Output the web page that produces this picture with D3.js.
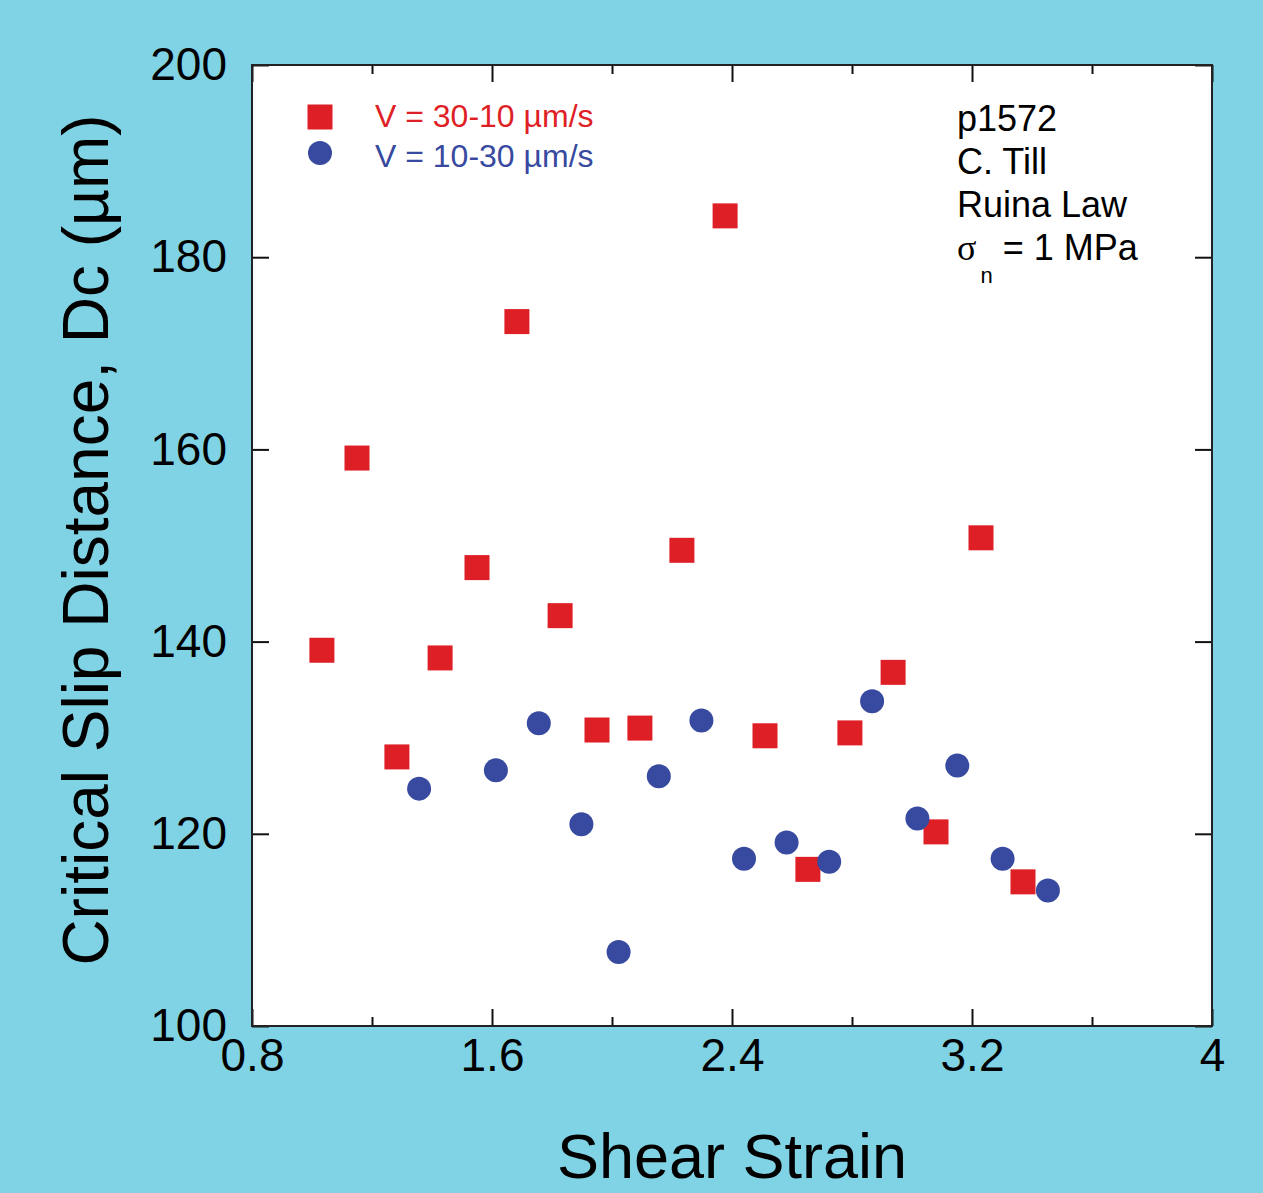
<!DOCTYPE html>
<meta charset="utf-8">
<script src="https://d3js.org/d3.v7.min.js"></script>
<style>
  body { margin: 0; background: #80d3e4; }
  text { font-family: "Liberation Sans", Arial, Helvetica, sans-serif; }
</style>
<div id="my_dataviz"></div>
<script>
    // data: shear strain vs critical slip distance Dc (µm)
    var downStrain = [1.033, 1.15, 1.283, 1.427, 1.55, 1.683, 1.827, 1.95, 2.093, 2.233, 2.377, 2.51, 2.653, 2.793, 2.937, 3.08, 3.23, 3.37];
    var downDc     = [139.1, 159.1, 128.0, 138.3, 147.7, 173.3, 142.7, 130.8, 131.0, 149.5, 184.3, 130.2, 116.3, 130.5, 136.8, 120.2, 150.8, 115.0];

    var upStrain = [1.357, 1.613, 1.756, 1.898, 2.022, 2.156, 2.298, 2.44, 2.582, 2.724, 2.867, 3.018, 3.151, 3.302, 3.453];
    var upDc     = [124.7, 126.6, 131.5, 121.0, 107.7, 126.0, 131.8, 117.4, 119.1, 117.1, 133.8, 121.6, 127.1, 117.4, 114.1];

    var xMajor = [0.8, 1.6, 2.4, 3.2, 4];
    var xMinor = [1.2, 2.0, 2.8, 3.6];
    var yMajor = [100, 120, 140, 160, 180, 200];

    var legendLabels = ["V = 30-10 µm/s", "V = 10-30 µm/s"];
    var noteLines = ["p1572", "C. Till", "Ruina Law"];

    var red = "#df1f26", blue = "#374a9f";

    var W = 1263, H = 1193;
    var margin = {top: 65, right: 51, bottom: 167, left: 252},
        width = W - margin.left - margin.right,
        height = H - margin.top - margin.bottom;

    var svg = d3.select("#my_dataviz")
      .append("svg")
        .attr("width", W)
        .attr("height", H)
      .append("g")
        .attr("transform", "translate(" + margin.left + "," + margin.top + ")");

    var x = d3.scaleLinear().domain([0.8, 4]).range([0, width]);
    var y = d3.scaleLinear().domain([100, 200]).range([height, 0]);

    // white plot area
    svg.append("rect")
        .attr("width", width)
        .attr("height", height)
        .attr("fill", "white");

    // axes: ticks point inward, on all four sides
    function styleAxis(g) {
      g.select(".domain").remove();
      g.selectAll(".tick line").attr("stroke", "#111").attr("stroke-width", 2);
      g.selectAll(".tick text").attr("fill", "black").style("font-size", "46px")
        .style("font-family", '"Liberation Sans", Arial, sans-serif');
    }

    svg.append("g")
        .attr("transform", "translate(0," + height + ")")
        .call(d3.axisBottom(x).tickValues(xMajor).tickSizeInner(-17).tickSizeOuter(0).tickPadding(12)
              .tickFormat(function(d){ return d3.format("~g")(d) }))
        .call(styleAxis);
    svg.append("g")
        .attr("transform", "translate(0," + height + ")")
        .call(d3.axisBottom(x).tickValues(xMinor).tickSizeInner(-9).tickSizeOuter(0).tickFormat(""))
        .call(styleAxis);
    svg.append("g")
        .call(d3.axisTop(x).tickValues(xMajor).tickSizeInner(-17).tickSizeOuter(0).tickFormat(""))
        .call(styleAxis);
    svg.append("g")
        .call(d3.axisTop(x).tickValues(xMinor).tickSizeInner(-9).tickSizeOuter(0).tickFormat(""))
        .call(styleAxis);

    svg.append("g")
        .call(d3.axisLeft(y).tickValues(yMajor).tickSizeInner(-17).tickSizeOuter(0).tickPadding(25))
        .call(styleAxis);
    svg.append("g")
        .attr("transform", "translate(" + width + ",0)")
        .call(d3.axisRight(y).tickValues(yMajor).tickSizeInner(-17).tickSizeOuter(0).tickFormat(""))
        .call(styleAxis);

    // frame
    svg.append("rect")
        .attr("width", width)
        .attr("height", height)
        .attr("fill", "none")
        .attr("stroke", "#222")
        .attr("stroke-width", 2);

    // squares: V = 30-10
    var sq = 25;
    svg.append("g")
      .selectAll("rect")
      .data(downStrain)
      .enter()
      .append("rect")
        .attr("x", function(d) { return x(d) - sq / 2 })
        .attr("y", function(d, i) { return y(downDc[i]) - sq / 2 })
        .attr("width", sq)
        .attr("height", sq)
        .attr("fill", red);

    // circles: V = 10-30
    svg.append("g")
      .selectAll("circle")
      .data(upStrain)
      .enter()
      .append("circle")
        .attr("cx", function(d) { return x(d) })
        .attr("cy", function(d, i) { return y(upDc[i]) })
        .attr("r", 12)
        .attr("fill", blue);

    // legend
    svg.append("rect")
        .attr("x", 68 - sq / 2)
        .attr("y", 52 - sq / 2)
        .attr("width", sq)
        .attr("height", sq)
        .attr("fill", red);
    svg.append("circle")
        .attr("cx", 68)
        .attr("cy", 88)
        .attr("r", 12)
        .attr("fill", blue);
    svg.append("text")
        .attr("x", 123)
        .attr("y", 62)
        .text(legendLabels[0])
        .style("font-size", "32px")
        .attr("fill", red);
    svg.append("text")
        .attr("x", 123)
        .attr("y", 102)
        .text(legendLabels[1])
        .style("font-size", "32px")
        .attr("fill", blue);

    // notes, top right
    noteLines.forEach(function(t, i) {
      svg.append("text")
          .attr("x", 705)
          .attr("y", 66 + i * 43)
          .text(t)
          .style("font-size", "36px")
          .attr("fill", "black");
    });
    var sig = svg.append("text")
        .attr("x", 705)
        .attr("y", 195)
        .style("font-size", "36px")
        .attr("fill", "black");
    sig.append("tspan").style("font-family", '"Liberation Serif", "Times New Roman", serif').text("σ");
    sig.append("tspan").attr("dy", 23).attr("dx", 4).style("font-size", "22px").text("n");
    sig.append("tspan").attr("dy", -23).attr("dx", 10).text("= 1 MPa");

    // axis titles
    svg.append("text")
        .attr("x", width / 2)
        .attr("y", height + 152)
        .attr("text-anchor", "middle")
        .style("font-size", "63px")
        .text("Shear Strain");
    svg.append("text")
        .attr("transform", "translate(" + (108 - margin.left) + "," + (540 - margin.top) + ") rotate(-90)")
        .attr("text-anchor", "middle")
        .style("font-size", "64px")
        .text("Critical Slip Distance, Dc (µm)");
</script>
